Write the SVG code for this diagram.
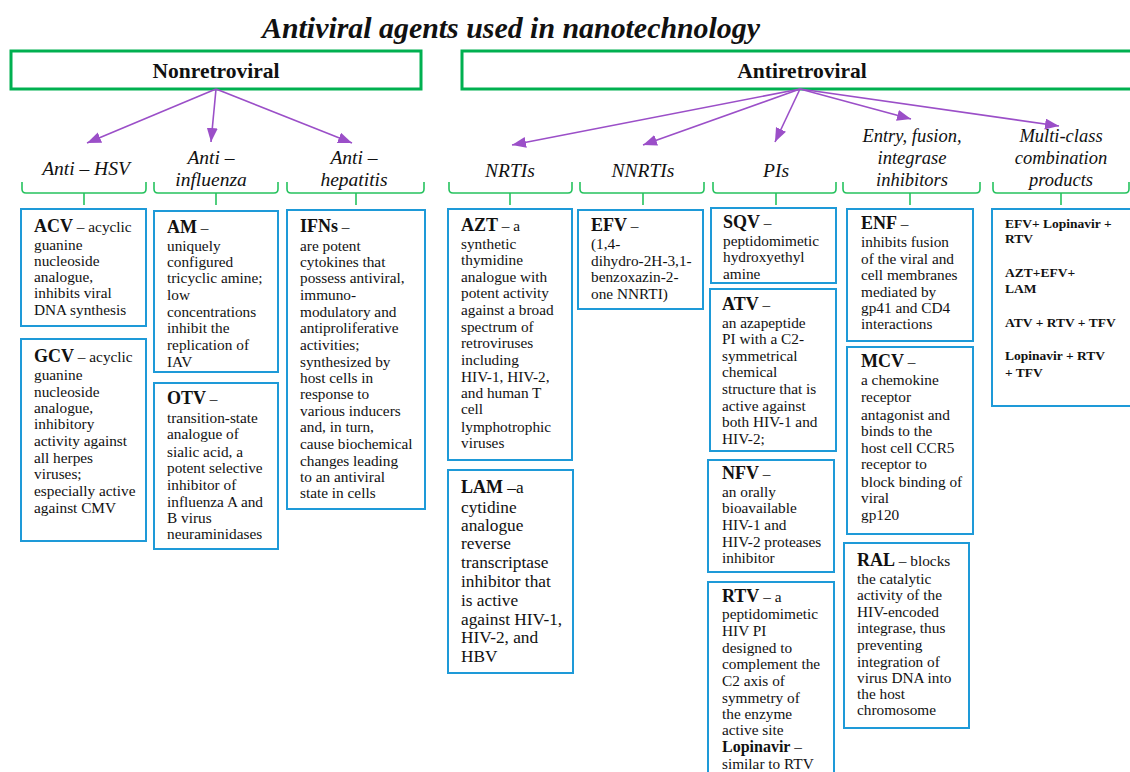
<svg xmlns="http://www.w3.org/2000/svg" width="1130" height="772" viewBox="0 0 1130 772">
  <style>
    .top { fill: #fff; stroke: #00B050; stroke-width: 3; }
    .box { fill: #fff; stroke: #1E9AD8; stroke-width: 2; }
    .br { fill: none; stroke: #26C25E; stroke-width: 1.6; stroke-linejoin: round; }
    .arr { fill: none; stroke: #9B4FC8; stroke-width: 1.6; marker-end: url(#ah); }
    .title { font-family: "Liberation Serif", serif; font-style: italic; font-weight: bold; font-size: 30px; fill: #111; }
    .main { font-family: "Liberation Serif", serif; font-weight: bold; font-size: 21.5px; fill: #111; text-anchor: middle; }
    .cat { font-family: "Liberation Serif", serif; font-style: italic; font-size: 19.5px; fill: #111; text-anchor: middle; }
    .cat3 { font-family: "Liberation Serif", serif; font-style: italic; font-size: 18.5px; fill: #111; text-anchor: middle; }
    .t { font-family: "Liberation Serif", serif; font-size: 15.3px; fill: #111; }
    .tl { font-family: "Liberation Serif", serif; font-size: 17.3px; fill: #111; }
    .h { font-weight: bold; font-size: 18px; }
    .b { font-weight: bold; }
    .mc { font-family: "Liberation Serif", serif; font-weight: bold; font-size: 13.5px; fill: #111; }
  </style>
  <defs>
    <marker id="ah" markerUnits="userSpaceOnUse" markerWidth="15" markerHeight="12" refX="14" refY="5.5" orient="auto">
      <path d="M0,0 L14,5.5 L0,11 Z" fill="#9B4FC8"/>
    </marker>
  </defs>

  <!-- title -->
  <text class="title" x="262" y="38" textLength="498" lengthAdjust="spacingAndGlyphs">Antiviral agents used in nanotechnology</text>

  <!-- top-level groups -->
  <g id="nonretroviral">
    <rect class="top" x="11" y="51" width="410" height="38"/>
    <text class="main" x="216" y="78">Nonretroviral</text>
  </g>
  <g id="antiretroviral">
    <rect class="top" x="462" y="51" width="690" height="38"/>
    <text class="main" x="802" y="78">Antiretroviral</text>
  </g>

  <!-- connectors -->
  <g id="connectors">
    <path class="arr" d="M216,89 L87,143"/>
    <path class="arr" d="M216,89 L211,142"/>
    <path class="arr" d="M216,89 L352,143"/>
    <path class="arr" d="M800,89 L512,145"/>
    <path class="arr" d="M800,89 L643,145"/>
    <path class="arr" d="M800,89 L775,142"/>
    <path class="arr" d="M800,89 L911,119"/>
    <path class="arr" d="M800,89 L1059,126"/>
  </g>

  <!-- category labels with braces -->
  <g id="cat-hsv">
    <text class="cat" x="86" y="175">Anti – HSV</text>
    <path class="br" d="M22,182 V189 Q22,193 26,193 H142 Q146,193 146,189 V182 M84,193 V205"/>
  </g>
  <g id="cat-influenza">
    <text class="cat" x="211" y="164">Anti –</text>
    <text class="cat" x="211" y="186">influenza</text>
    <path class="br" d="M154,182 V189 Q154,193 158,193 H274 Q278,193 278,189 V182 M216,193 V205"/>
  </g>
  <g id="cat-hepatitis">
    <text class="cat" x="354" y="164">Anti –</text>
    <text class="cat" x="354" y="186">hepatitis</text>
    <path class="br" d="M287,182 V189 Q287,193 291,193 H420 Q424,193 424,189 V182 M356,193 V205"/>
  </g>
  <g id="cat-nrti">
    <text class="cat" x="510" y="177">NRTIs</text>
    <path class="br" d="M449,182 V189 Q449,193 453,193 H568 Q572,193 572,189 V182 M510,193 V205"/>
  </g>
  <g id="cat-nnrti">
    <text class="cat" x="643" y="177">NNRTIs</text>
    <path class="br" d="M580,182 V189 Q580,193 584,193 H700 Q704,193 704,189 V182 M643,193 V205"/>
  </g>
  <g id="cat-pi">
    <text class="cat" x="776" y="177">PIs</text>
    <path class="br" d="M713,182 V189 Q713,193 717,193 H832 Q836,193 836,189 V182 M776,193 V205"/>
  </g>
  <g id="cat-entry">
    <text class="cat3" x="912" y="142">Entry, fusion,</text>
    <text class="cat3" x="912" y="164">integrase</text>
    <text class="cat3" x="912" y="186">inhibitors</text>
    <path class="br" d="M843,182 V189 Q843,193 847,193 H976 Q980,193 980,189 V182 M910,193 V205"/>
  </g>
  <g id="cat-multi">
    <text class="cat3" x="1061" y="142">Multi-class</text>
    <text class="cat3" x="1061" y="164">combination</text>
    <text class="cat3" x="1061" y="186">products</text>
    <path class="br" d="M993,182 V189 Q993,193 997,193 H1125 Q1129,193 1129,189 V182 M1061,193 V205"/>
  </g>

  <!-- drug boxes -->
  <g id="acv">
    <rect class="box" x="21" y="209" width="125" height="117"/>
    <text class="t" x="34"><tspan y="232"><tspan class="h">ACV</tspan> – acyclic</tspan><tspan x="34" y="250">guanine</tspan><tspan x="34" y="266">nucleoside</tspan><tspan x="34" y="282">analogue,</tspan><tspan x="34" y="298">inhibits viral</tspan><tspan x="34" y="315">DNA synthesis</tspan></text>
  </g>
  <g id="gcv">
    <rect class="box" x="21" y="339" width="125" height="202"/>
    <text class="t" x="34"><tspan y="362"><tspan class="h">GCV</tspan> – acyclic</tspan><tspan x="34" y="380">guanine</tspan><tspan x="34" y="397">nucleoside</tspan><tspan x="34" y="413">analogue,</tspan><tspan x="34" y="429">inhibitory</tspan><tspan x="34" y="446">activity against</tspan><tspan x="34" y="463">all herpes</tspan><tspan x="34" y="479">viruses;</tspan><tspan x="34" y="496">especially active</tspan><tspan x="34" y="513">against CMV</tspan></text>
  </g>
  <g id="am">
    <rect class="box" x="154" y="211" width="124" height="161"/>
    <text class="t" x="167"><tspan y="233"><tspan class="h">AM</tspan> –</tspan><tspan x="167" y="251">uniquely</tspan><tspan x="167" y="267">configured</tspan><tspan x="167" y="283">tricyclic amine;</tspan><tspan x="167" y="300">low</tspan><tspan x="167" y="317">concentrations</tspan><tspan x="167" y="333">inhibit the</tspan><tspan x="167" y="350">replication of</tspan><tspan x="167" y="367">IAV</tspan></text>
  </g>
  <g id="otv">
    <rect class="box" x="154" y="383" width="124" height="166"/>
    <text class="t" x="167"><tspan y="404"><tspan class="h">OTV</tspan> –</tspan><tspan x="167" y="423">transition-state</tspan><tspan x="167" y="439">analogue of</tspan><tspan x="167" y="457">sialic acid, a</tspan><tspan x="167" y="473">potent selective</tspan><tspan x="167" y="490">inhibitor of</tspan><tspan x="167" y="507">influenza A and</tspan><tspan x="167" y="523">B virus</tspan><tspan x="167" y="539">neuraminidases</tspan></text>
  </g>
  <g id="ifn">
    <rect class="box" x="287" y="210" width="138" height="299"/>
    <text class="t" x="300"><tspan y="232"><tspan class="h">IFNs</tspan> –</tspan><tspan x="300" y="251">are potent</tspan><tspan x="300" y="267">cytokines that</tspan><tspan x="300" y="283">possess antiviral,</tspan><tspan x="300" y="300">immuno-</tspan><tspan x="300" y="317">modulatory and</tspan><tspan x="300" y="333">antiproliferative</tspan><tspan x="300" y="350">activities;</tspan><tspan x="300" y="367">synthesized by</tspan><tspan x="300" y="383">host cells in</tspan><tspan x="300" y="399">response to</tspan><tspan x="300" y="416">various inducers</tspan><tspan x="300" y="432">and, in turn,</tspan><tspan x="300" y="449">cause biochemical</tspan><tspan x="300" y="466">changes leading</tspan><tspan x="300" y="482">to an antiviral</tspan><tspan x="300" y="498">state in cells</tspan></text>
  </g>
  <g id="azt">
    <rect class="box" x="448" y="209" width="124" height="251"/>
    <text class="t" x="461"><tspan y="231"><tspan class="h">AZT</tspan> – a</tspan><tspan x="461" y="249">synthetic</tspan><tspan x="461" y="265">thymidine</tspan><tspan x="461" y="282">analogue with</tspan><tspan x="461" y="298">potent activity</tspan><tspan x="461" y="315">against a broad</tspan><tspan x="461" y="332">spectrum of</tspan><tspan x="461" y="348">retroviruses</tspan><tspan x="461" y="365">including</tspan><tspan x="461" y="382">HIV-1, HIV-2,</tspan><tspan x="461" y="398">and human T</tspan><tspan x="461" y="414">cell</tspan><tspan x="461" y="432">lymphotrophic</tspan><tspan x="461" y="448">viruses</tspan></text>
  </g>
  <g id="lam">
    <rect class="box" x="448" y="470" width="125" height="203"/>
    <text class="tl" x="461"><tspan y="493"><tspan class="h">LAM</tspan> –a</tspan><tspan x="461" y="513">cytidine</tspan><tspan x="461" y="531">analogue</tspan><tspan x="461" y="549">reverse</tspan><tspan x="461" y="568">transcriptase</tspan><tspan x="461" y="587">inhibitor that</tspan><tspan x="461" y="606">is active</tspan><tspan x="461" y="625">against HIV-1,</tspan><tspan x="461" y="643">HIV-2, and</tspan><tspan x="461" y="662">HBV</tspan></text>
  </g>
  <g id="efv">
    <rect class="box" x="578" y="210" width="125" height="99"/>
    <text class="t" x="591"><tspan y="231"><tspan class="h">EFV</tspan> –</tspan><tspan x="591" y="249">(1,4-</tspan><tspan x="591" y="266">dihydro-2H-3,1-</tspan><tspan x="591" y="282">benzoxazin-2-</tspan><tspan x="591" y="299">one NNRTI)</tspan></text>
  </g>
  <g id="sqv">
    <rect class="box" x="711" y="208" width="125" height="75"/>
    <text class="t" x="723"><tspan y="228"><tspan class="h">SQV</tspan> –</tspan><tspan x="723" y="246">peptidomimetic</tspan><tspan x="723" y="262">hydroxyethyl</tspan><tspan x="723" y="279">amine</tspan></text>
  </g>
  <g id="atv">
    <rect class="box" x="710" y="289" width="126" height="162"/>
    <text class="t" x="722"><tspan y="310"><tspan class="h">ATV</tspan> –</tspan><tspan x="722" y="328">an azapeptide</tspan><tspan x="722" y="344">PI with a C2-</tspan><tspan x="722" y="361">symmetrical</tspan><tspan x="722" y="377">chemical</tspan><tspan x="722" y="394">structure that is</tspan><tspan x="722" y="411">active against</tspan><tspan x="722" y="427">both HIV-1 and</tspan><tspan x="722" y="444">HIV-2;</tspan></text>
  </g>
  <g id="nfv">
    <rect class="box" x="708" y="460" width="126" height="112"/>
    <text class="t" x="722"><tspan y="479"><tspan class="h">NFV</tspan> –</tspan><tspan x="722" y="497">an orally</tspan><tspan x="722" y="513">bioavailable</tspan><tspan x="722" y="530">HIV-1 and</tspan><tspan x="722" y="547">HIV-2 proteases</tspan><tspan x="722" y="563">inhibitor</tspan></text>
  </g>
  <g id="rtv">
    <rect class="box" x="708" y="582" width="126" height="210"/>
    <text class="t" x="722"><tspan y="602"><tspan class="h">RTV</tspan> – a</tspan><tspan x="722" y="619">peptidomimetic</tspan><tspan x="722" y="636">HIV PI</tspan><tspan x="722" y="653">designed to</tspan><tspan x="722" y="669">complement the</tspan><tspan x="722" y="686">C2 axis of</tspan><tspan x="722" y="703">symmetry of</tspan><tspan x="722" y="719">the enzyme</tspan><tspan x="722" y="735">active site</tspan><tspan x="722" y="752"><tspan class="b" font-size="16px">Lopinavir</tspan> –</tspan><tspan x="722" y="769">similar to RTV</tspan></text>
  </g>
  <g id="enf">
    <rect class="box" x="847" y="209" width="126" height="132"/>
    <text class="t" x="861"><tspan y="229"><tspan class="h">ENF</tspan> –</tspan><tspan x="861" y="247">inhibits fusion</tspan><tspan x="861" y="264">of the viral and</tspan><tspan x="861" y="280">cell membranes</tspan><tspan x="861" y="297">mediated by</tspan><tspan x="861" y="313">gp41 and CD4</tspan><tspan x="861" y="329">interactions</tspan></text>
  </g>
  <g id="mcv">
    <rect class="box" x="847" y="347" width="126" height="187"/>
    <text class="t" x="861"><tspan y="367"><tspan class="h">MCV</tspan> –</tspan><tspan x="861" y="385">a chemokine</tspan><tspan x="861" y="402">receptor</tspan><tspan x="861" y="420">antagonist and</tspan><tspan x="861" y="436">binds to the</tspan><tspan x="861" y="453">host cell CCR5</tspan><tspan x="861" y="469">receptor to</tspan><tspan x="861" y="487">block binding of</tspan><tspan x="861" y="503">viral</tspan><tspan x="861" y="520">gp120</tspan></text>
  </g>
  <g id="ral">
    <rect class="box" x="844" y="543" width="125" height="185"/>
    <text class="t" x="857"><tspan y="566"><tspan class="h">RAL</tspan> – blocks</tspan><tspan x="857" y="584">the catalytic</tspan><tspan x="857" y="600">activity of the</tspan><tspan x="857" y="617">HIV-encoded</tspan><tspan x="857" y="633">integrase, thus</tspan><tspan x="857" y="650">preventing</tspan><tspan x="857" y="667">integration of</tspan><tspan x="857" y="683">virus DNA into</tspan><tspan x="857" y="699">the host</tspan><tspan x="857" y="715">chromosome</tspan></text>
  </g>
  <g id="combo">
    <rect class="box" x="992" y="209" width="150" height="197"/>
    <text class="mc" x="1005"><tspan y="228">EFV+ Lopinavir +</tspan><tspan x="1005" y="243">RTV</tspan><tspan x="1005" y="277">AZT+EFV+</tspan><tspan x="1005" y="293">LAM</tspan><tspan x="1005" y="327">ATV + RTV + TFV</tspan><tspan x="1005" y="360">Lopinavir + RTV</tspan><tspan x="1005" y="377">+ TFV</tspan></text>
  </g>
</svg>
